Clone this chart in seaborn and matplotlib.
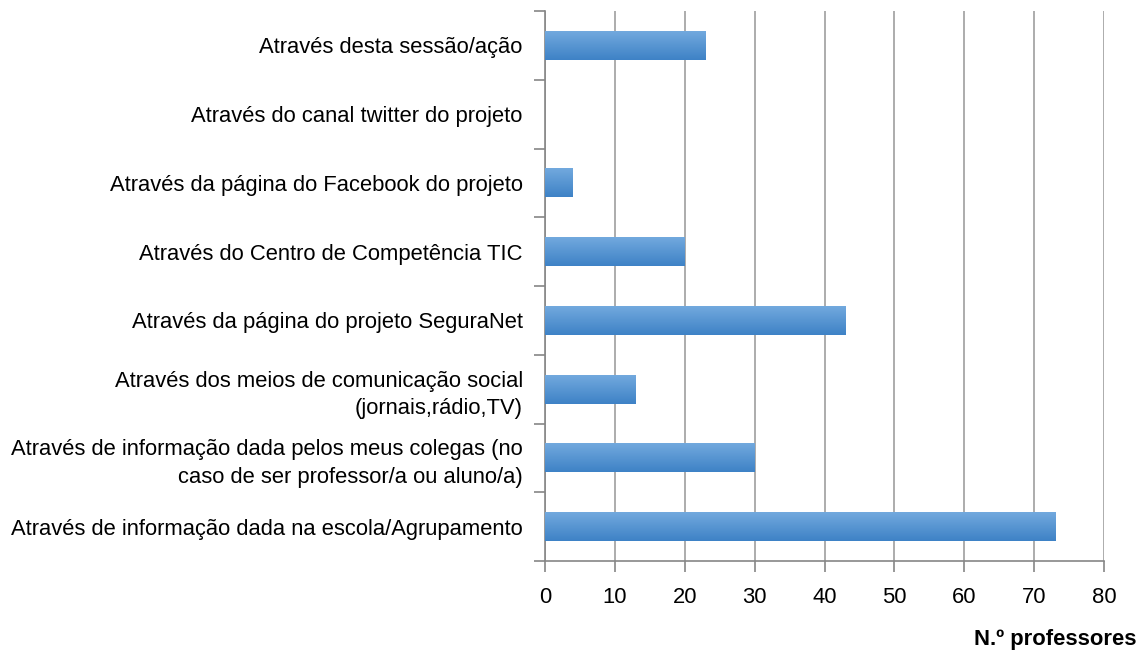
import numpy as np
import pandas as pd
import seaborn as sns
import matplotlib.pyplot as plt

categories = [
    "Através desta sessão/ação",
    "Através do canal twitter do projeto",
    "Através da página do Facebook do projeto",
    "Através do Centro de Competência TIC",
    "Através da página do projeto SeguraNet",
    "Através dos meios de comunicação social\n(jornais,rádio,TV)",
    "Através de informação dada pelos meus colegas (no\ncaso de ser professor/a ou aluno/a)",
    "Através de informação dada na escola/Agrupamento",
]
values = [23, 0, 4, 20, 43, 13, 30, 73]
xticks = [0, 10, 20, 30, 40, 50, 60, 70, 80]
xlabel = "N.º professores"

sns.set_style("white")
plt.rcParams['font.family'] = ['Liberation Sans', 'DejaVu Sans']
plt.rcParams['text.color'] = 'black'
plt.rcParams['xtick.color'] = '#868686'
plt.rcParams['ytick.color'] = '#868686'
plt.rcParams['xtick.labelcolor'] = 'black'
plt.rcParams['ytick.labelcolor'] = 'black'

df = pd.DataFrame({"cat": categories, "n": values})

fig = plt.figure(figsize=(11.45, 6.59), dpi=100)
ax = fig.add_axes([545 / 1145, 1 - 561 / 659, (1104 - 545) / 1145, (561 - 11) / 659])

sns.barplot(data=df, x="n", y="cat", orient="h", color="#5b9bd5", width=0.42,
            saturation=1, linewidth=0, ax=ax, zorder=3)

# gradient fill on each bar (lighter top, darker bottom)
grad = np.linspace(0, 1, 64).reshape(-1, 1)
cmap = plt.matplotlib.colors.LinearSegmentedColormap.from_list("g", ["#72a9de", "#3e82c6"])
for p in ax.patches:
    w = p.get_width()
    if w <= 0:
        p.set_visible(False)
        continue
    x0, y0 = p.get_x(), p.get_y()
    h = p.get_height()
    im = ax.imshow(grad, cmap=cmap, aspect="auto", extent=[x0, x0 + w, y0 + h, y0],
                   zorder=4, interpolation="bilinear")
    im.set_clip_path(p)

ax.set_xlim(0, 80)
ax.set_ylim(7.5, -0.5)
ax.set_xticks(xticks)
ax.set_yticks(range(len(categories)))
ax.set_yticklabels(categories, linespacing=1.4)
ax.set_yticks(np.arange(-0.5, len(categories), 1), minor=True)
ax.tick_params(axis="y", which="major", left=False, length=0, pad=16, labelsize=15.8)
ax.tick_params(axis="y", which="minor", left=True, length=8, width=1.2, direction="out")
ax.tick_params(axis="x", bottom=True, length=8, width=1.2, direction="out", pad=11, labelsize=15.8)
ax.set_ylabel("")
ax.set_xlabel("")
ax.grid(axis="x", color="#a6a6a6", lw=1.3, zorder=0)
ax.grid(axis="y", visible=False)
for s in ["top", "right"]:
    ax.spines[s].set_visible(False)
for s in ["left", "bottom"]:
    ax.spines[s].set_color("#868686")
    ax.spines[s].set_linewidth(1.2)

fig.text(1137 / 1145, 1 - 640 / 659, xlabel, ha="right", va="center",
         fontsize=15.8, fontweight="bold")

fig.savefig("out.png", dpi=100)
